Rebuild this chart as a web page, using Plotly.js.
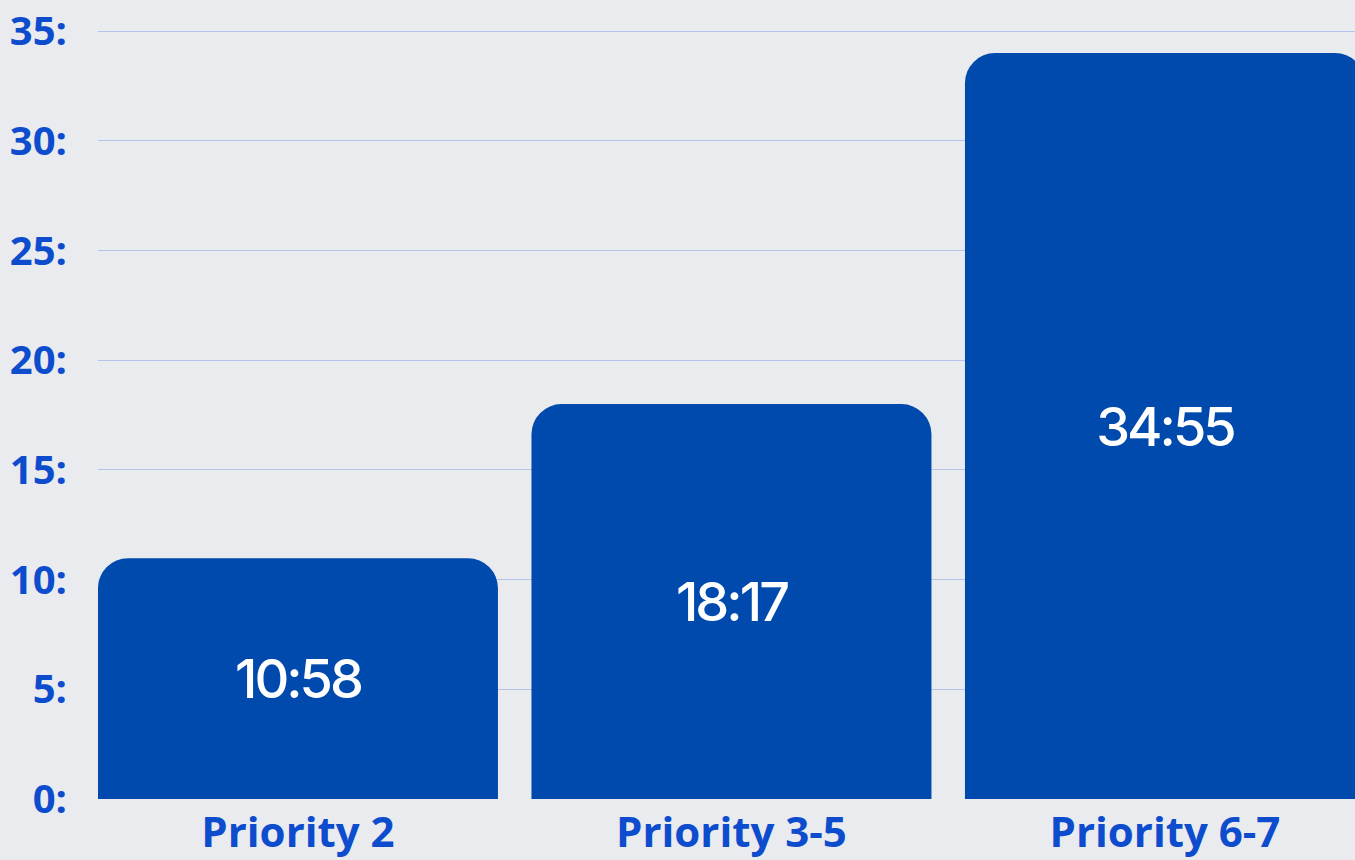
<!DOCTYPE html>
<html>
<head>
<meta charset="utf-8">
<script src="https://cdn.plot.ly/plotly-3.0.1.min.js"></script>
<style>
html,body{margin:0;padding:0;background:#e9ebef;}
#chart{width:1355px;height:860px;}
#chart .bartext{letter-spacing:-3px;}
</style>
</head>
<body>
<div id="chart"></div>
<script>
const categories = ["Priority 2", "Priority 3-5", "Priority 6-7"];
const barHeights = [10.97, 18.0, 34.0];
const barLabels = ["10:58", "18:17", "34:55"];
const yTickValues = [0, 5, 10, 15, 20, 25, 30, 35];
const yTickLabels = ["0:", "5:", "10:", "15:", "20:", "25:", "30:", "35:"];

const trace = {
  type: "bar",
  x: categories,
  y: barHeights,
  text: barLabels,
  textposition: "inside",
  insidetextanchor: "middle",
  textangle: 0,
  textfont: {family: "Inter, 'Open Sans', sans-serif", size: 54, color: "#ffffff", weight: 500},
  marker: {color: "#004aad", cornerradius: 30, line: {width: 0}},
  hoverinfo: "none",
  cliponaxis: true
};

const layout = {
  width: 1355,
  height: 860,
  margin: {l: 98, r: 0, t: 0, b: 61},
  paper_bgcolor: "#e9ebef",
  plot_bgcolor: "rgba(0,0,0,0)",
  bargap: 0.0773,
  showlegend: false,
  font: {family: "'Open Sans', sans-serif"},
  xaxis: {
    type: "category",
    range: [-0.4613, 2.4384],
    showgrid: false,
    zeroline: false,
    showline: false,
    ticks: "",
    ticklabelstandoff: 5,
    tickfont: {family: "'Open Sans', sans-serif", size: 42, color: "#0d4ccc", weight: 700},
    fixedrange: true
  },
  yaxis: {
    range: [0, 36.42],
    tickmode: "array",
    tickvals: yTickValues,
    ticktext: yTickLabels,
    showgrid: true,
    gridcolor: "#b4c4ea",
    gridwidth: 1,
    zeroline: false,
    showline: false,
    ticks: "",
    ticklabelstandoff: 30,
    tickfont: {family: "'Open Sans', sans-serif", size: 40, color: "#0d4ccc", weight: 700},
    fixedrange: true
  }
};

Plotly.newPlot("chart", [trace], layout, {displayModeBar: false, staticPlot: true});
</script>
</body>
</html>
